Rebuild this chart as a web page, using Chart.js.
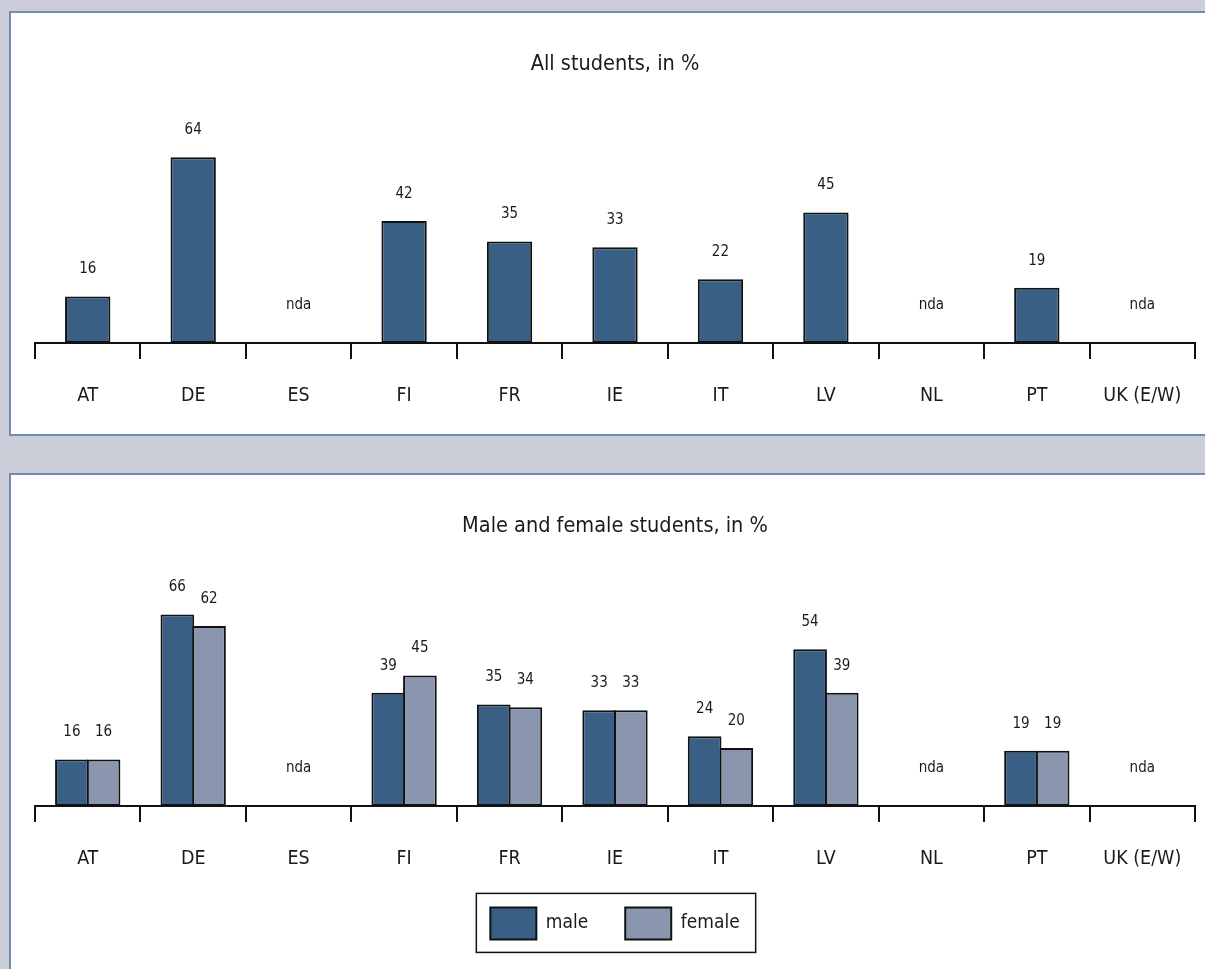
<!DOCTYPE html>
<html>
<head>
<meta charset="utf-8">
<title>Students, in %</title>
<script src="https://cdn.jsdelivr.net/npm/chart.js@4/dist/chart.umd.min.js"></script>
<style>
  html, body { margin: 0; padding: 0; background: #cbcdd9; overflow: hidden; width: 1205px; height: 969px; }
  .panel { position: absolute; left: 9px; background: #fff; border: 2px solid #6f8db0; border-right: none; box-sizing: border-box; }
  #panelAll { top: 11px; width: 1210px; height: 425px; }
  #panelSex { top: 473px; width: 1210px; height: 520px; }
  canvas { display: block; }
</style>
</head>
<body>
<div class="panel" id="panelAll"><canvas id="allChart" width="1208" height="421"></canvas></div>
<div class="panel" id="panelSex"><canvas id="sexChart" width="1208" height="480"></canvas></div>
<script>
const countries = ["AT", "DE", "ES", "FI", "FR", "IE", "IT", "LV", "NL", "PT", "UK (E/W)"];
// null = no data available ("nda")
const allStudents = [16, 64, null, 42, 35, 33, 22, 45, null, 19, null];
const maleStudents = [16, 66, null, 39, 35, 33, 24, 54, null, 19, null];
const femaleStudents = [16, 62, null, 45, 34, 33, 20, 39, null, 19, null];
const yMax = 80;

const FONT = "'DejaVu Sans Condensed', 'DejaVu Sans', sans-serif";
const MALE_COLOR = "#3a5f85";
const FEMALE_COLOR = "#8a96ae";
const INK = "#1a1a1a";

// draws the value above each bar, and "nda" where a country has no data at all
const valueLabelPlugin = {
  id: "valueLabels",
  afterDatasetsDraw(chart) {
    const { ctx, scales } = chart;
    const baseY = scales.y.getPixelForValue(0);
    ctx.save();
    ctx.font = "15px " + FONT;
    ctx.fillStyle = INK;
    ctx.textAlign = "center";
    ctx.textBaseline = "middle";
    chart.data.datasets.forEach((ds, di) => {
      const meta = chart.getDatasetMeta(di);
      meta.data.forEach((bar, i) => {
        const v = ds.data[i];
        if (v === null || v === undefined) return;
        ctx.fillText(String(v), bar.x, bar.y - 27);
      });
    });
    chart.data.labels.forEach((lab, i) => {
      const missing = chart.data.datasets.every(ds => ds.data[i] === null);
      if (!missing) return;
      ctx.fillText("nda", scales.x.getPixelForValue(i), baseY - 38);
    });
    ctx.restore();
  }
};

// frame around the legend items
const legendFramePlugin = {
  id: "legendFrame",
  afterDraw(chart) {
    const lg = chart.legend;
    if (!lg || !lg.options.display || !lg.legendHitBoxes.length) return;
    const boxes = lg.legendHitBoxes;
    const left = Math.min(...boxes.map(b => b.left)) - 14;
    const right = Math.max(...boxes.map(b => b.left + b.width)) + 16;
    const top = Math.min(...boxes.map(b => b.top)) - 14;
    const bottom = Math.max(...boxes.map(b => b.top + b.height)) + 13;
    const ctx = chart.ctx;
    ctx.save();
    ctx.strokeStyle = "#111";
    ctx.lineWidth = 1.5;
    ctx.strokeRect(left, top, right - left, bottom - top);
    ctx.restore();
  }
};

function baseOptions(titleText, titlePad, legendOn, bottomPad) {
  return {
    responsive: false,
    animation: false,
    devicePixelRatio: 1,
    layout: { padding: { left: 24, right: 24, top: 0, bottom: bottomPad } },
    plugins: {
      title: {
        display: true,
        text: titleText,
        color: INK,
        font: { family: FONT, size: 21.5, weight: "normal" },
        padding: titlePad
      },
      legend: {
        display: legendOn,
        position: "bottom",
        labels: {
          color: INK,
          font: { family: FONT, size: 19 },
          boxWidth: 46,
          boxHeight: 32,
          padding: 37
        }
      },
      tooltip: { enabled: false }
    },
    scales: {
      x: {
        offset: true,
        grid: {
          offset: true,
          drawOnChartArea: false,
          drawTicks: true,
          tickLength: 16,
          color: "#111",
          lineWidth: 2
        },
        border: { display: true, color: "#111", width: 2 },
        ticks: {
          color: INK,
          padding: 25,
          maxRotation: 0,
          font: { family: FONT, size: 19.5 }
        },
        // the axis reserves the label padding twice; give the extra space back
        afterFit(scale) {
          scale.height -= scale.options.ticks.padding;
        }
      },
      y: {
        display: false,
        min: 0,
        max: yMax
      }
    }
  };
}

new Chart(document.getElementById("allChart"), {
  type: "bar",
  data: {
    labels: countries,
    datasets: [{
      label: "all",
      data: allStudents,
      backgroundColor: MALE_COLOR,
      borderColor: "#111",
      borderWidth: 2,
      borderSkipped: false,
      categoryPercentage: 1,
      barPercentage: 0.43
    }]
  },
  options: baseOptions("All students, in %", { top: 39, bottom: 33 }, false, 26.6),
  plugins: [valueLabelPlugin]
});

new Chart(document.getElementById("sexChart"), {
  type: "bar",
  data: {
    labels: countries,
    datasets: [{
      label: "male",
      data: maleStudents,
      backgroundColor: MALE_COLOR,
      borderColor: "#111",
      borderWidth: 2,
      borderSkipped: false,
      categoryPercentage: 0.6,
      barPercentage: 1.065
    }, {
      label: "female",
      data: femaleStudents,
      backgroundColor: FEMALE_COLOR,
      borderColor: "#111",
      borderWidth: 2,
      borderSkipped: false,
      categoryPercentage: 0.6,
      barPercentage: 1.065
    }]
  },
  options: baseOptions("Male and female students, in %", { top: 39, bottom: 34 }, true, 5.6),
  plugins: [valueLabelPlugin, legendFramePlugin]
});
</script>
</body>
</html>
